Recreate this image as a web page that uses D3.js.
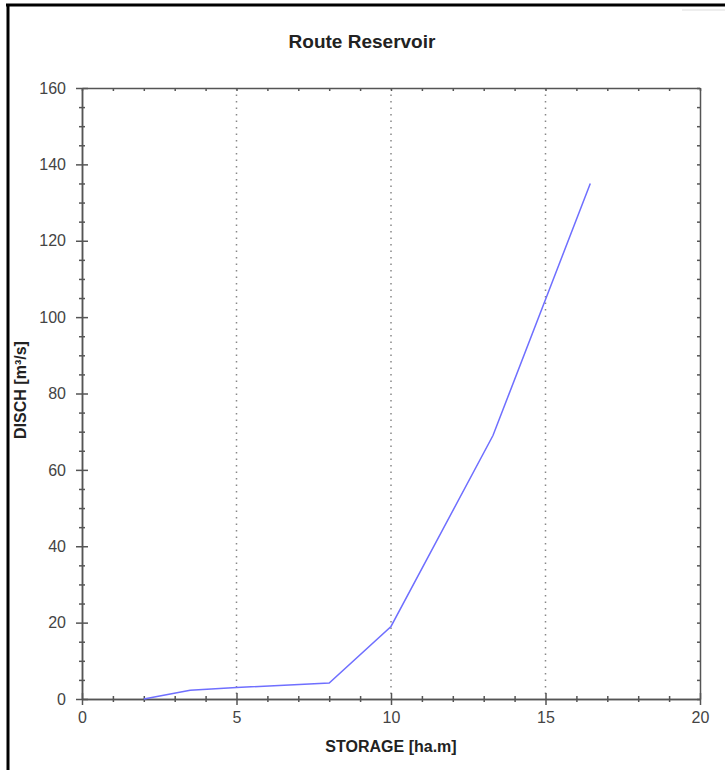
<!DOCTYPE html>
<html>
<head>
<meta charset="utf-8">
<script src="https://cdn.jsdelivr.net/npm/d3@7"></script>
<style>
  body { margin: 0; background: #fff; }
  svg { display: block; font-family: Arial, "Liberation Sans", sans-serif; }
</style>
</head>
<body>
<div id="chart"></div>
<script>
// storage vs discharge
var storage = [2, 3.5, 5, 8, 10, 13.3, 16.45];
var disch = [0, 2.3, 3, 4.2, 19, 69, 135];
var xTicks = [0, 5, 10, 15, 20];
var yTicks = [0, 20, 40, 60, 80, 100, 120, 140, 160];
var gridX = [5, 10, 15];

var width = 725, height = 770;
var svg = d3.select('#chart').append('svg')
    .attr('width', width)
    .attr('height', height);

// page frame (left and top edges only)
svg.append('line').attr('x1', 8).attr('y1', 5).attr('x2', 8).attr('y2', height)
    .style('stroke', '#000').attr('stroke-width', 3);
svg.append('line').attr('x1', 6).attr('y1', 5).attr('x2', width).attr('y2', 5)
    .style('stroke', '#000').attr('stroke-width', 3);
svg.append('line').attr('x1', 682).attr('y1', 10).attr('x2', width).attr('y2', 10)
    .style('stroke', '#ddd').attr('stroke-width', 1);

var plotLeft = 82, plotRight = 700, plotTop = 88, plotBottom = 699;
var x = d3.scaleLinear().domain([0, 20]).range([plotLeft, plotRight]);
var y = d3.scaleLinear().domain([0, 160]).range([plotBottom, plotTop]);

// dotted vertical grid
svg.selectAll('.grid')
    .data(gridX)
    .enter().append('line')
    .attr('class', 'grid')
    .attr('x1', function (d) { return x(d); })
    .attr('x2', function (d) { return x(d); })
    .attr('y1', plotTop)
    .attr('y2', plotBottom)
    .style('stroke', '#888')
    .style('stroke-dasharray', '1.5,5')
    .attr('stroke-width', 1.5);

var axisColor = '#555';

function tickLines(g) {
    g.select('.domain').style('stroke', axisColor).attr('stroke-width', 1.5);
    g.selectAll('.tick line').style('stroke', axisColor).attr('stroke-width', 1.5);
}

// bottom axis, ticks crossing the line
var minorX = d3.range(0, 21, 1).filter(function (d) { return d % 5 !== 0; });
svg.append('g').attr('transform', 'translate(0,' + plotBottom + ')')
    .call(d3.axisBottom(x).tickValues(minorX).tickSize(3).tickFormat('').tickSizeOuter(0))
    .call(tickLines)
    .selectAll('.tick line').attr('y1', -3);
var xg = svg.append('g').attr('transform', 'translate(0,' + plotBottom + ')')
    .call(d3.axisBottom(x).tickValues(xTicks).tickSize(6).tickPadding(7).tickSizeOuter(0))
    .call(tickLines);
xg.selectAll('.tick line').attr('y1', -6);
xg.selectAll('.tick text').style('font-size', '16px').style('fill', '#444');

// top axis, inward ticks
svg.append('g').attr('transform', 'translate(0,' + plotTop + ')')
    .call(d3.axisTop(x).tickValues(d3.range(0, 21, 1)).tickSize(-3).tickFormat('').tickSizeOuter(0))
    .call(tickLines);

// left axis
var minorY = d3.range(0, 161, 5).filter(function (d) { return d % 20 !== 0; });
svg.append('g').attr('transform', 'translate(' + plotLeft + ',0)')
    .call(d3.axisLeft(y).tickValues(minorY).tickSize(3).tickFormat('').tickSizeOuter(0))
    .call(tickLines)
    .selectAll('.tick line').attr('x1', 3);
var yg = svg.append('g').attr('transform', 'translate(' + plotLeft + ',0)')
    .call(d3.axisLeft(y).tickValues(yTicks).tickSize(6).tickPadding(10).tickSizeOuter(0))
    .call(tickLines);
yg.selectAll('.tick line').attr('x1', 6);
yg.selectAll('.tick text').style('font-size', '16px').style('fill', '#444');

// right axis, inward ticks
svg.append('g').attr('transform', 'translate(' + plotRight + ',0)')
    .call(d3.axisRight(y).tickValues(d3.range(0, 161, 5)).tickSize(-3).tickFormat('').tickSizeOuter(0))
    .call(tickLines);

// the curve
var pts = storage.map(function (s, i) { return [s, disch[i]]; });
svg.append('path')
    .datum(pts)
    .attr('d', d3.line()
        .x(function (d) { return x(d[0]); })
        .y(function (d) { return y(d[1]); }))
    .style('fill', 'none')
    .style('stroke', '#6f6fff')
    .attr('stroke-width', 1.5);

// title and axis labels
svg.append('text')
    .attr('x', 362).attr('y', 48)
    .attr('text-anchor', 'middle')
    .style('font-size', '19px').style('font-weight', 'bold').style('fill', '#222')
    .text('Route Reservoir');

svg.append('text')
    .attr('x', 391).attr('y', 752)
    .attr('text-anchor', 'middle')
    .style('font-size', '16px').style('font-weight', 'bold').style('fill', '#222')
    .text('STORAGE [ha.m]');

svg.append('text')
    .attr('transform', 'translate(26,390) rotate(-90)')
    .attr('text-anchor', 'middle')
    .style('font-size', '16px').style('font-weight', 'bold').style('fill', '#222')
    .text('DISCH [m³/s]');
</script>
</body>
</html>
